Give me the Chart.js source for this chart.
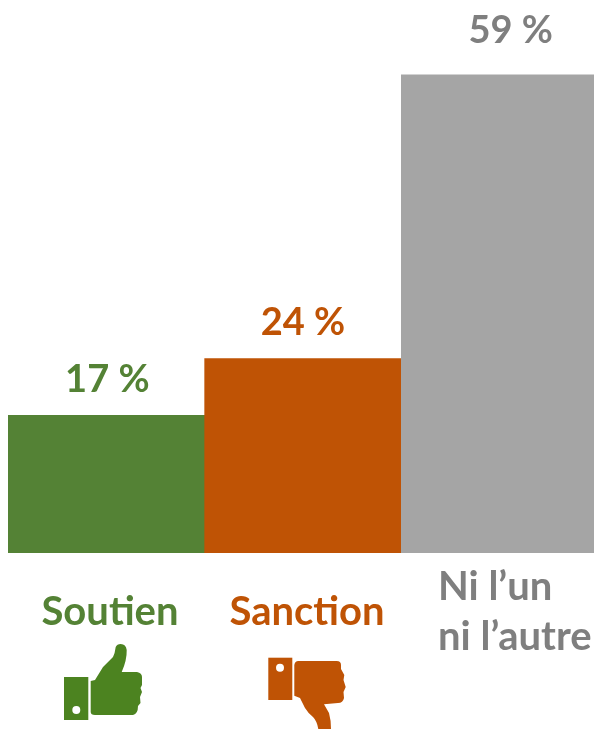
<!DOCTYPE html>
<html>
<head>
<meta charset="utf-8">
<title>Soutien ou sanction</title>
<script src="https://cdn.jsdelivr.net/npm/chart.js@4"></script>
<style>
    html, body { margin: 0; padding: 0; background: #fff; overflow: hidden; width: 594px; height: 729px; }
    #wrap { position: relative; width: 598px; height: 729px; }
</style>
</head>
<body>
<div id="wrap"><canvas id="chart"></canvas></div>
<script>
// Chart data
const categories = ['Soutien', 'Sanction', 'Ni l’un ni l’autre'];
const values = [17, 24, 59];
const barColors = ['#548235', '#BF5305', '#A5A5A5'];
const textColors = ['#548235', '#BF5305', '#7F7F7F'];

// Outline of the two hands, in page pixels
const thumbUp = 'M90.7 681 L95 680 L103 667 L113 657 Q115 653 115.7 647 Q117 644 120.7 644 Q126 644 126.7 650 Q127 660 121.7 672 L137 672 Q142 673 142 677 L142 685 L140.5 688 L142 692 L140 697 L140.5 703 L138 706 Q138 714 133 715 L95 715 Q90.7 715 90.7 712 Z';
const thumbDown = 'M294.3 665 Q295 661 298.3 661 L336.7 661 Q341 661 341 665 L341 669 L344.3 675 L343.5 680 L345.7 687 L343.5 692 L344 698 Q343 703 338 703 L324 704.3 L329 713 Q331 720 331 729 L318.3 729 Q317 721 313 717 Q308 713 305 708 L300 698 L294.3 695.7 Z';

const fontFamily = 'Lato, "Open Sans", sans-serif';

function setText(ctx, color, size) {
    ctx.fillStyle = color;
    ctx.font = `bold ${size}px ${fontFamily}`;
    ctx.textBaseline = 'middle';
}

// Value labels above the bars, category labels and icons below
const annotations = {
    id: 'annotations',
    afterDatasetsDraw(chart) {
        const ctx = chart.ctx;
        const bars = chart.getDatasetMeta(0).data;
        const baseY = chart.scales.y.getPixelForValue(0);
        ctx.save();

        ctx.textAlign = 'center';
        const labelShift = [[1, -36], [0, -36], [11, -44]];
        values.forEach((value, i) => {
            setText(ctx, textColors[i], 38);
            ctx.fillText(`${value} %`, bars[i].x + labelShift[i][0], bars[i].y + labelShift[i][1]);
        });

        setText(ctx, textColors[0], 40);
        ctx.fillText(categories[0], 110, baseY + 59);
        setText(ctx, textColors[1], 40);
        ctx.fillText(categories[1], 307, baseY + 59);

        ctx.textAlign = 'left';
        setText(ctx, textColors[2], 40);
        ctx.fillText('Ni l’un', 438, baseY + 34);
        ctx.fillText('ni l’autre', 438, baseY + 84);

        // Thumb up
        ctx.fillStyle = '#4C8320';
        ctx.fillRect(64, 677, 24.3, 43);
        ctx.fill(new Path2D(thumbUp));
        ctx.fillStyle = '#fff';
        ctx.beginPath();
        ctx.arc(76.3, 710, 4, 0, Math.PI * 2);
        ctx.fill();

        // Thumb down
        ctx.fillStyle = '#BF5305';
        ctx.fillRect(268.3, 657.7, 24, 42.3);
        ctx.fill(new Path2D(thumbDown));
        ctx.fillStyle = '#fff';
        ctx.beginPath();
        ctx.arc(280, 667.7, 4, 0, Math.PI * 2);
        ctx.fill();

        ctx.restore();
    },
};

new Chart(document.getElementById('chart'), {
    type: 'bar',
    data: {
        labels: categories,
        datasets: [{
            data: values,
            backgroundColor: barColors,
            barPercentage: 1,
            categoryPercentage: 1,
        }],
    },
    options: {
        responsive: true,
        maintainAspectRatio: false,
        animation: false,
        layout: { padding: { left: 8, right: 0, top: 2, bottom: 176 } },
        plugins: { legend: { display: false }, tooltip: { enabled: false } },
        scales: {
            x: { display: false },
            y: { display: false, min: 0, max: 68 },
        },
    },
    plugins: [annotations],
});
</script>
</body>
</html>
